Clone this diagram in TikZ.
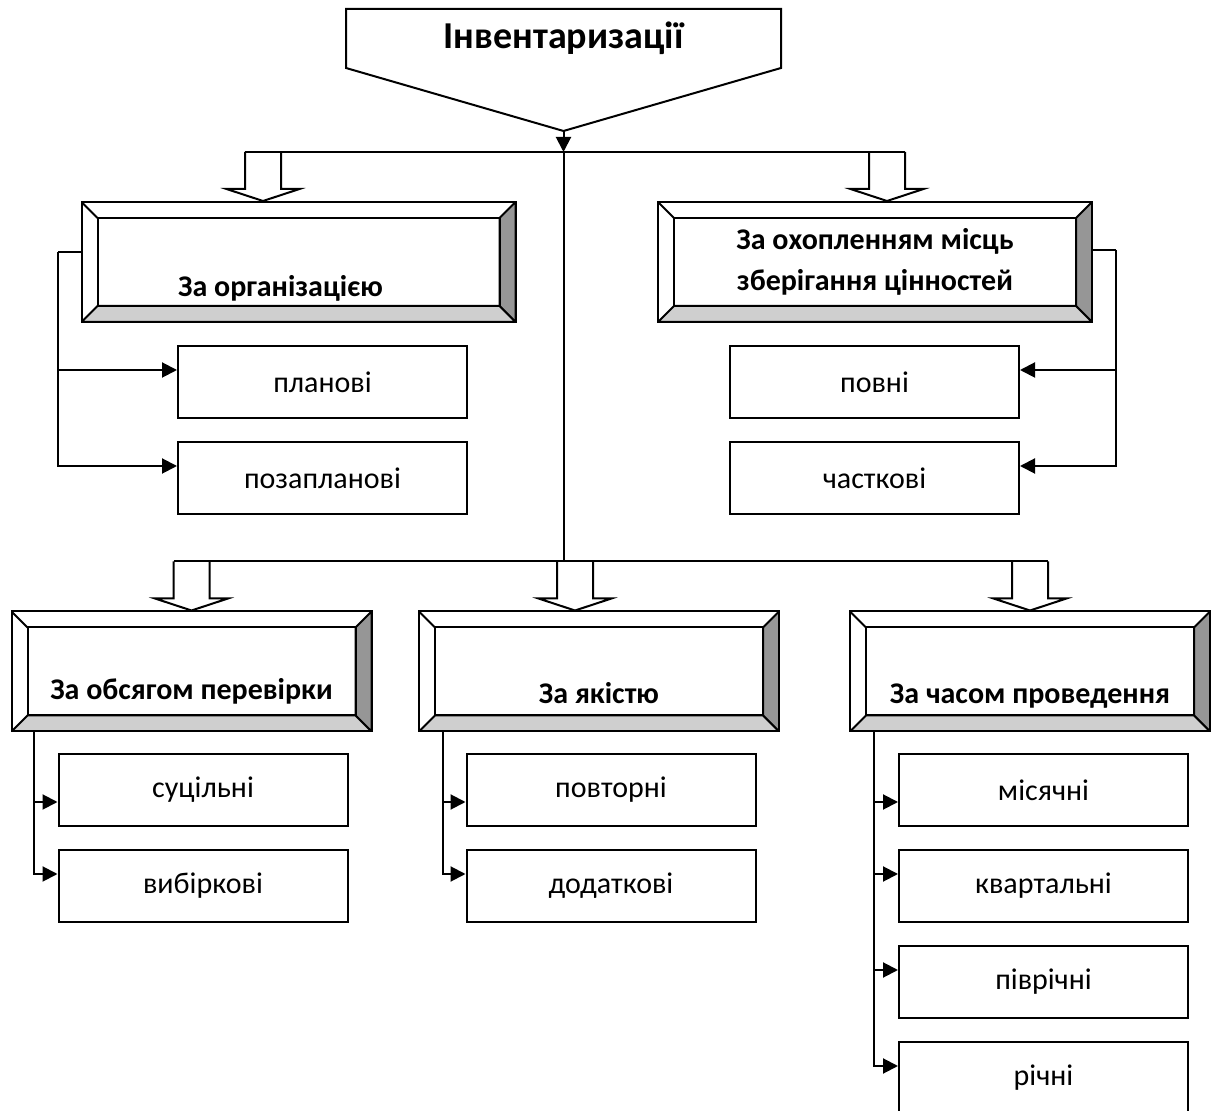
\documentclass[tikz,border=0pt]{standalone}
\usepackage{fontspec}
\setmainfont{Carlito}
\usetikzlibrary{arrows.meta, positioning}
\definecolor{BevelDark}{HTML}{969696}
\definecolor{BevelLight}{HTML}{CFCFCF}
\tikzset{
  titlebox/.style={rectangle, minimum width=216.5pt, minimum height=28.5pt, inner sep=0pt,
                   font=\fontsize{19}{22}\selectfont\bfseries},
  leafnode/.style={draw, rectangle, minimum width=144.5pt, minimum height=36pt, inner sep=0pt,
                   font=\fontsize{15}{18}\selectfont},
  bevelbox/.style={draw, fill=white, rectangle, minimum height=60pt, inner sep=0pt, align=center,
                   font=\fontsize{15}{20.5}\selectfont\bfseries,
                   path picture={
                     \filldraw[fill=BevelDark]
                       (path picture bounding box.north east) -- (path picture bounding box.south east)
                       -- ([shift={(-8pt,8pt)}]path picture bounding box.south east)
                       -- ([shift={(-8pt,-8pt)}]path picture bounding box.north east) -- cycle;
                     \filldraw[fill=BevelLight]
                       (path picture bounding box.south west) -- (path picture bounding box.south east)
                       -- ([shift={(-8pt,8pt)}]path picture bounding box.south east)
                       -- ([shift={(8pt,8pt)}]path picture bounding box.south west) -- cycle;
                     \draw ([shift={(8pt,-8pt)}]path picture bounding box.north west)
                       rectangle ([shift={(-8pt,8pt)}]path picture bounding box.south east);
                     \draw (path picture bounding box.north west)
                       -- ([shift={(8pt,-8pt)}]path picture bounding box.north west);
                   }},
  arrowstd/.style={-{Triangle[length=7.5pt, width=7.5pt]}},
  hollowdown/.pic={
    \draw[fill=white] (-9pt,24.5pt) -- (-9pt,6pt) -- (-18.25pt,6pt) -- (0pt,0pt)
      -- (18.25pt,6pt) -- (9pt,6pt) -- (9pt,24.5pt);
  }
}

\begin{document}
\begin{tikzpicture}[x=0.5pt, y=-0.5pt, line width=1pt, node distance=11pt]
  \useasboundingbox (0,0) rectangle (1211,1111);

  % head of the scheme
  \node[titlebox] (title) at (563.5,38.5) {Інвентаризації};
  \coordinate (tip) at ([yshift=-31.5pt]title.south);
  \draw (title.south west) |- (title.north east) -- (title.south east) -- (tip) -- cycle;

  % groups
  \node[bevelbox, minimum width=217pt, text height=38pt, text depth=3pt] (org) at (298.5,262) {\kern-18pt За організацією};
  \node[bevelbox, minimum width=217pt] (cover) at (875,262) {За охопленням місць\\зберігання цінностей};
  \node[bevelbox, minimum width=180pt, text height=31pt, text depth=3pt] (volume) at (191.5,671.5) {За обсягом перевірки};
  \node[bevelbox, minimum width=180pt, text height=35pt, text depth=3pt] (quality) at (599,671.5) {За якістю};
  \node[bevelbox, minimum width=180pt, text height=35pt, text depth=3pt] (timing) at (1030,671.5) {За часом проведення};

  % kinds
  \node[leafnode] (plan) at (322.5,382) {планові};
  \node[leafnode, below=of plan] (unplan) {позапланові};
  \node[leafnode] (full) at (874.5,382) {повні};
  \node[leafnode, below=of full] (partial) {часткові};
  \node[leafnode] (solid) at (203,790) {суцільні};
  \node[leafnode, below=of solid] (sample) {вибіркові};
  \node[leafnode] (repeat) at (611,790) {повторні};
  \node[leafnode, below=of repeat] (extra) {додаткові};
  \node[leafnode] (monthly) at (1043.5,790) {місячні};
  \node[leafnode, below=of monthly] (quarter) {квартальні};
  \node[leafnode, below=of quarter] (halfyear) {піврічні};
  \node[leafnode, below=of halfyear] (annual) {річні};

  % hollow arrows into the groups
  \pic at ([xshift=-17.75pt]org.north) {hollowdown};
  \pic at ([xshift=6pt]cover.north) {hollowdown};
  \pic at (volume.north) {hollowdown};
  \pic at ([xshift=-12pt]quality.north) {hollowdown};
  \pic at (timing.north) {hollowdown};

  \coordinate (hubtopL) at ([xshift=-26.75pt, yshift=24.5pt]org.north);
  \coordinate (hubtopR) at ([xshift=15pt, yshift=24.5pt]cover.north);
  \coordinate (hubbotL) at ([xshift=-9pt, yshift=24.5pt]volume.north);
  \coordinate (hubbotR) at ([xshift=9pt, yshift=24.5pt]timing.north);

  \draw[arrowstd] (tip) -- (tip |- hubtopL);
  \draw (hubtopL) -- (hubtopR);
  \draw (tip |- hubtopL) -- (tip |- hubbotL);
  \draw (hubbotL) -- (hubbotR);

  % branches
  \draw ([yshift=5pt]org.west) -- ++(-23,0) coordinate (orgtrunk);
  \draw[arrowstd] (orgtrunk) |- ([yshift=6pt]plan.west);
  \draw[arrowstd] (orgtrunk) |- ([yshift=6pt]unplan.west);

  \draw ([yshift=6pt]cover.east) -- ++(23,0) coordinate (covertrunk);
  \draw[arrowstd] (covertrunk) |- ([yshift=6pt]full.east);
  \draw[arrowstd] (covertrunk) |- ([yshift=6pt]partial.east);

  \coordinate (voltrunk) at ([xshift=11.5pt]volume.south west);
  \draw[arrowstd] (voltrunk) |- ([yshift=-6pt]solid.west);
  \draw[arrowstd] (voltrunk) |- ([yshift=6pt]sample.west);

  \coordinate (qualtrunk) at ([xshift=12.5pt]quality.south west);
  \draw[arrowstd] (qualtrunk) |- ([yshift=-6pt]repeat.west);
  \draw[arrowstd] (qualtrunk) |- ([yshift=6pt]extra.west);

  \coordinate (timetrunk) at ([xshift=12.5pt]timing.south west);
  \draw[arrowstd] (timetrunk) |- ([yshift=-6pt]monthly.west);
  \draw[arrowstd] (timetrunk) |- ([yshift=6pt]quarter.west);
  \draw[arrowstd] (timetrunk) |- ([yshift=6pt]halfyear.west);
  \draw[arrowstd] (timetrunk) |- ([yshift=6pt]annual.west);
\end{tikzpicture}
\end{document}
